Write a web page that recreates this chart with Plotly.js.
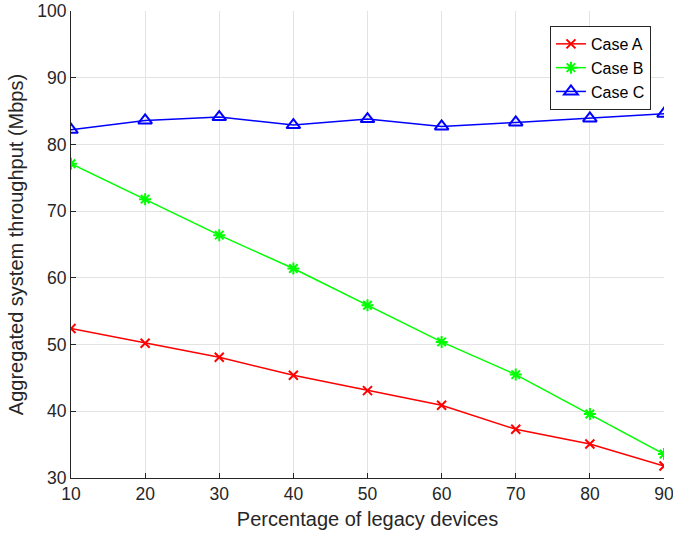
<!DOCTYPE html>
<html>
<head>
<meta charset="utf-8">
<script src="https://cdn.plot.ly/plotly-3.0.1.min.js"></script>
<style>html,body{margin:0;padding:0;background:#fff;}</style>
</head>
<body>
<div id="chart" style="width:673px;height:539px;"></div>
<script>
const xValues = [10, 20, 30, 40, 50, 60, 70, 80, 90];
const caseA = [52.4, 50.2, 48.1, 45.4, 43.1, 40.9, 37.3, 35.1, 31.8];
const caseB = [77.1, 71.8, 66.4, 61.4, 55.9, 50.4, 45.5, 39.6, 33.6];
const caseC = [82.2, 83.6, 84.1, 82.9, 83.8, 82.7, 83.3, 83.9, 84.6];
const seriesNames = ["Case A", "Case B", "Case C"];
const xTicks = [10, 20, 30, 40, 50, 60, 70, 80, 90];
const yTicks = [30, 40, 50, 60, 70, 80, 90, 100];

const font = "Liberation Sans, Arial, sans-serif";
const traces = [
  {x: xValues, y: caseA, name: seriesNames[0], mode: "lines+markers",
   line: {color: "#ff0000", width: 1.5},
   marker: {symbol: "x-thin-open", size: 9, color: "#ff0000", line: {color: "#ff0000", width: 2}}},
  {x: xValues, y: caseB, name: seriesNames[1], mode: "lines+markers",
   line: {color: "#00ff00", width: 1.5},
   marker: {symbol: "asterisk-open", size: 10, color: "#00ff00", line: {color: "#00ff00", width: 2}}},
  {x: xValues, y: caseC, name: seriesNames[2], mode: "lines+markers",
   line: {color: "#0000ff", width: 1.5},
   marker: {symbol: "triangle-up-open", size: 12, color: "#0000ff", line: {color: "#0000ff", width: 2}}}
];

const layout = {
  width: 673, height: 539,
  margin: {l: 71, r: 9, t: 11, b: 61, pad: 0},
  paper_bgcolor: "#ffffff", plot_bgcolor: "#ffffff",
  font: {family: font, size: 17, color: "#262626"},
  showlegend: true,
  legend: {x: 0.978, y: 0.968, xanchor: "right", yanchor: "top",
    bgcolor: "#ffffff", bordercolor: "#262626", borderwidth: 1,
    font: {family: font, size: 16, color: "#000000"}, tracegroupgap: 0},
  xaxis: {
    range: [10, 90], tickvals: xTicks, ticktext: xTicks.map(String),
    showgrid: true, gridcolor: "#e3e3e3", gridwidth: 1,
    showline: true, linecolor: "#262626", linewidth: 1,
    ticks: "inside", ticklen: 5, tickcolor: "#262626",
    zeroline: false, mirror: false, ticklabeloverflow: "allow",
    tickfont: {family: font, size: 17.5, color: "#262626"},
    title: {text: "Percentage of legacy devices", font: {family: font, size: 20, color: "#262626"}, standoff: 8}
  },
  yaxis: {
    range: [30, 100], tickvals: yTicks, ticktext: yTicks.map(String),
    showgrid: true, gridcolor: "#e3e3e3", gridwidth: 1,
    showline: true, linecolor: "#262626", linewidth: 1,
    ticks: "inside", ticklen: 5, tickcolor: "#262626",
    zeroline: false, mirror: false, ticklabeloverflow: "allow",
    tickfont: {family: font, size: 17.5, color: "#262626"},
    title: {text: "Aggregated system throughput (Mbps)", font: {family: font, size: 20, color: "#262626"}, standoff: 8}
  }
};

Plotly.newPlot("chart", traces, layout, {displayModeBar: false, staticPlot: true});
</script>
</body>
</html>
